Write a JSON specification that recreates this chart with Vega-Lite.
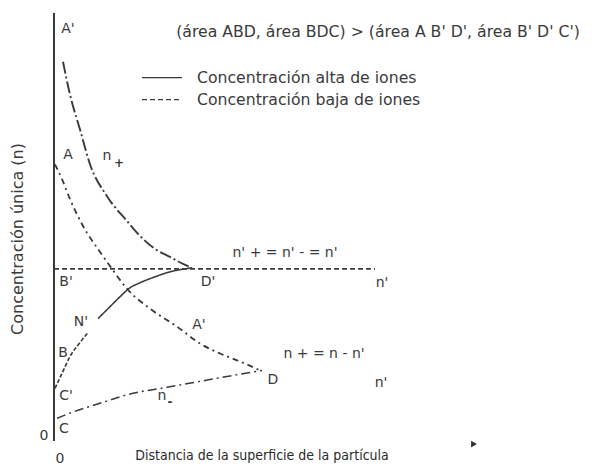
{
  "$schema": "https://vega.github.io/schema/vega-lite/v6.json",
  "width": 596,
  "height": 466,
  "padding": 0,
  "autosize": {"type": "fit", "contains": "padding"},
  "background": "white",
  "config": {"view": {"stroke": null}},
  "datasets": {
    "curves": [
      {"s": "axis", "i": 0, "x": 0, "y": 430},
      {"s": "axis", "i": 1, "x": 0, "y": 0},
      {"s": "up", "i": 0, "x": 9, "y": 381},
      {"s": "up", "i": 1, "x": 16, "y": 348},
      {"s": "up", "i": 2, "x": 26, "y": 313},
      {"s": "up", "i": 3, "x": 36, "y": 278},
      {"s": "up", "i": 4, "x": 53, "y": 246},
      {"s": "up", "i": 5, "x": 73, "y": 221},
      {"s": "up", "i": 6, "x": 86, "y": 206},
      {"s": "up", "i": 7, "x": 101, "y": 193},
      {"s": "up", "i": 8, "x": 116, "y": 185},
      {"s": "up", "i": 9, "x": 129, "y": 178},
      {"s": "up", "i": 10, "x": 138, "y": 174},
      {"s": "low", "i": 0, "x": 1, "y": 278},
      {"s": "low", "i": 1, "x": 8, "y": 263},
      {"s": "low", "i": 2, "x": 16, "y": 243},
      {"s": "low", "i": 3, "x": 29, "y": 216},
      {"s": "low", "i": 4, "x": 46, "y": 190},
      {"s": "low", "i": 5, "x": 58, "y": 173},
      {"s": "low", "i": 6, "x": 73, "y": 153},
      {"s": "low", "i": 7, "x": 96, "y": 133},
      {"s": "low", "i": 8, "x": 123, "y": 115},
      {"s": "low", "i": 9, "x": 146, "y": 98},
      {"s": "low", "i": 10, "x": 166, "y": 88},
      {"s": "low", "i": 11, "x": 186, "y": 80},
      {"s": "low", "i": 12, "x": 208, "y": 70},
      {"s": "hz", "i": 0, "x": 0, "y": 173},
      {"s": "hz", "i": 1, "x": 321, "y": 173},
      {"s": "cn", "i": 0, "x": 1, "y": 53},
      {"s": "cn", "i": 1, "x": 8, "y": 68},
      {"s": "cn", "i": 2, "x": 16, "y": 85},
      {"s": "cn", "i": 3, "x": 26, "y": 99},
      {"s": "cn", "i": 4, "x": 34, "y": 109},
      {"s": "nd", "i": 0, "x": 44, "y": 123},
      {"s": "nd", "i": 1, "x": 56, "y": 135},
      {"s": "nd", "i": 2, "x": 66, "y": 145},
      {"s": "nd", "i": 3, "x": 76, "y": 154},
      {"s": "nd", "i": 4, "x": 86, "y": 159},
      {"s": "nd", "i": 5, "x": 101, "y": 165},
      {"s": "nd", "i": 6, "x": 116, "y": 170},
      {"s": "nd", "i": 7, "x": 131, "y": 173},
      {"s": "nd", "i": 8, "x": 138, "y": 174},
      {"s": "nm", "i": 0, "x": 3, "y": 23},
      {"s": "nm", "i": 1, "x": 13, "y": 27},
      {"s": "nm", "i": 2, "x": 46, "y": 38},
      {"s": "nm", "i": 3, "x": 79, "y": 48},
      {"s": "nm", "i": 4, "x": 113, "y": 54},
      {"s": "nm", "i": 5, "x": 146, "y": 60},
      {"s": "nm", "i": 6, "x": 179, "y": 66},
      {"s": "nm", "i": 7, "x": 208, "y": 71},
      {"s": "leg1", "i": 0, "x": 88, "y": 365},
      {"s": "leg1", "i": 1, "x": 128, "y": 365},
      {"s": "leg2", "i": 0, "x": 88, "y": 343},
      {"s": "leg2", "i": 1, "x": 128, "y": 343}
    ],
    "labels": [
      {"t": "A'", "x": 14, "y": 414},
      {"t": "A", "x": 14, "y": 287},
      {"t": "n", "x": 53, "y": 286},
      {"t": "n' + = n' - = n'", "x": 231, "y": 189},
      {"t": "B'", "x": 12, "y": 160},
      {"t": "D'", "x": 154, "y": 160},
      {"t": "n'", "x": 328, "y": 159},
      {"t": "N'", "x": 27, "y": 120},
      {"t": "A'", "x": 145, "y": 117},
      {"t": "B", "x": 9, "y": 88},
      {"t": "n + = n - n'", "x": 270, "y": 87},
      {"t": "D", "x": 219, "y": 61},
      {"t": "n'", "x": 327, "y": 58},
      {"t": "C'", "x": 12, "y": 45},
      {"t": "n", "x": 108, "y": 45},
      {"t": "C", "x": 10, "y": 12},
      {"t": "0", "x": -10, "y": 5},
      {"t": "0", "x": 6, "y": -18}
    ],
    "subs": [
      {"t": "+", "x": 65, "y": 279},
      {"t": "-", "x": 116, "y": 39}
    ],
    "heading": [
      {"t": "(área ABD, área BDC) > (área A B' D', área B' D' C')", "x": 324, "y": 411}
    ],
    "legendText": [
      {"t": "Concentración alta de iones", "x": 143, "y": 365},
      {"t": "Concentración baja de iones", "x": 143, "y": 343}
    ],
    "xTitle": [
      {"t": "Distancia de la superficie de la partícula", "x": 208, "y": -15}
    ],
    "yTitle": [
      {"t": "Concentración única (n)", "x": -36, "y": 203}
    ],
    "arrow": [
      {"x": 420, "y": -3}
    ]
  },
  "encoding": {
    "x": {"field": "x", "type": "quantitative", "scale": {"domain": [-54, 542], "nice": false, "zero": false}, "axis": null},
    "y": {"field": "y", "type": "quantitative", "scale": {"domain": [-23, 443], "nice": false, "zero": false}, "axis": null}
  },
  "layer": [
    {
      "data": {"name": "curves"},
      "mark": {"type": "line", "color": "#3a3a3a", "interpolate": "monotone"},
      "encoding": {
        "detail": {"field": "s"},
        "order": {"field": "i", "type": "quantitative"},
        "strokeDash": {
          "field": "s", "type": "nominal", "legend": null,
          "scale": {
            "domain": ["axis", "up", "low", "hz", "cn", "nd", "nm", "leg1", "leg2"],
            "range": [[1, 0], [12, 3, 2, 3], [6, 4, 2, 4], [5, 3], [4, 2], [1, 0], [9, 4, 2, 4], [1, 0], [5, 3]]
          }
        },
        "strokeWidth": {
          "field": "s", "type": "nominal", "legend": null,
          "scale": {
            "domain": ["axis", "up", "low", "hz", "cn", "nd", "nm", "leg1", "leg2"],
            "range": [2, 1.3, 1.3, 1.3, 1.3, 1.5, 1.3, 1.3, 1.3]
          }
        }
      }
    },
    {
      "data": {"name": "labels"},
      "mark": {"type": "text", "font": "DejaVu Sans", "fontSize": 14, "color": "#3a3a3a", "align": "center", "baseline": "middle"},
      "encoding": {"text": {"field": "t"}}
    },
    {
      "data": {"name": "subs"},
      "mark": {"type": "text", "font": "DejaVu Sans", "fontSize": 12, "fontWeight": "bold", "color": "#3a3a3a", "align": "center", "baseline": "middle"},
      "encoding": {"text": {"field": "t"}}
    },
    {
      "data": {"name": "heading"},
      "mark": {"type": "text", "font": "DejaVu Sans", "fontSize": 15.7, "color": "#3a3a3a", "align": "center", "baseline": "middle"},
      "encoding": {"text": {"field": "t"}}
    },
    {
      "data": {"name": "legendText"},
      "mark": {"type": "text", "font": "DejaVu Sans", "fontSize": 15.7, "color": "#3a3a3a", "align": "left", "baseline": "middle"},
      "encoding": {"text": {"field": "t"}}
    },
    {
      "data": {"name": "xTitle"},
      "mark": {"type": "text", "font": "DejaVu Sans Condensed", "fontSize": 14, "color": "#2a2a2a", "align": "center", "baseline": "middle"},
      "encoding": {"text": {"field": "t"}}
    },
    {
      "data": {"name": "yTitle"},
      "mark": {"type": "text", "font": "DejaVu Sans", "fontSize": 16, "angle": 270, "color": "#3a3a3a", "align": "center", "baseline": "middle"},
      "encoding": {"text": {"field": "t"}}
    },
    {
      "data": {"name": "arrow"},
      "mark": {"type": "point", "shape": "triangle-right", "filled": true, "size": 45, "color": "#333333", "opacity": 1},
      "encoding": {}
    }
  ]
}
